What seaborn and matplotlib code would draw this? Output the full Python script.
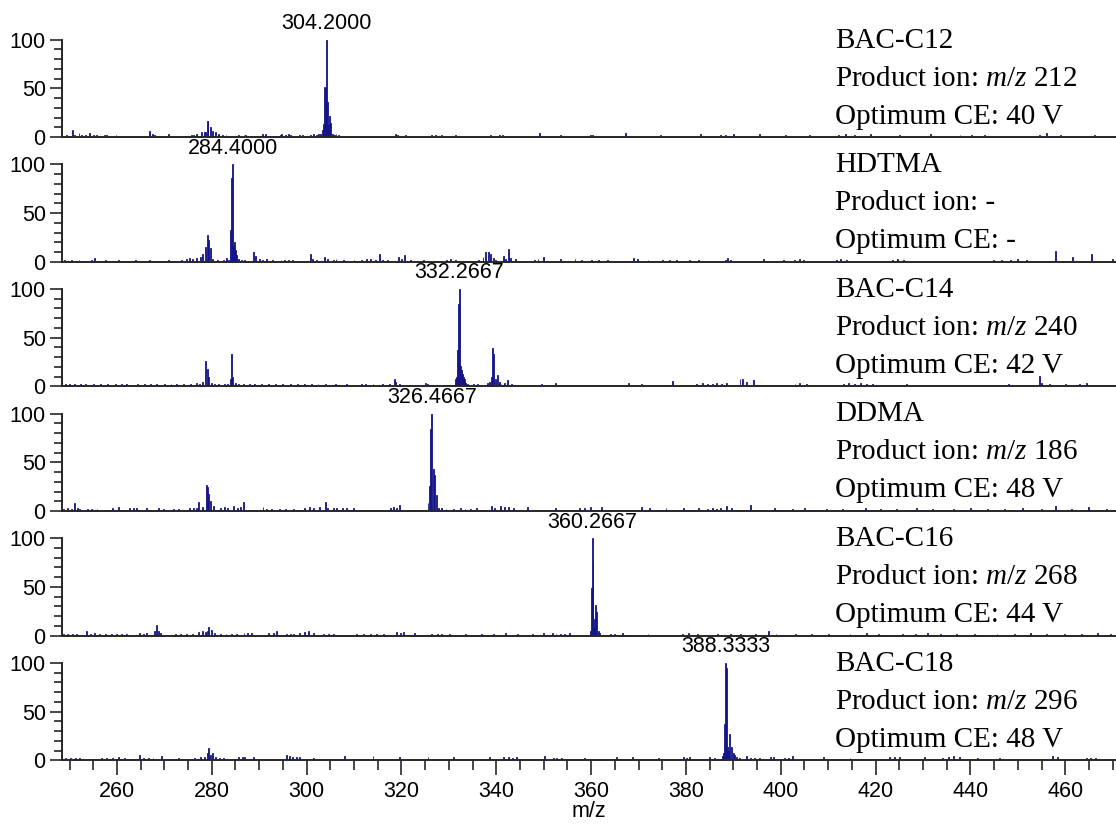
import matplotlib
matplotlib.use("Agg")
import matplotlib.pyplot as plt
import matplotlib.transforms as mtransforms
from matplotlib.ticker import MultipleLocator
import pandas as pd
import seaborn as sns

# Compound annotations for each stacked spectrum
compounds = ["BAC-C12", "HDTMA", "BAC-C14", "DDMA", "BAC-C16", "BAC-C18"]
product_ions = ["212", "-", "240", "186", "268", "296"]
collision_energies = ["40 V", "-", "42 V", "48 V", "44 V", "48 V"]

# Centroided spectra: (m/z, relative intensity %)
spec_bac_c12 = [
    (249.3, 2), (249.8, 1), (250.5, 7), (251.0, 2), (252.1, 4), (252.6, 2), (253.3, 2),
    (254.2, 4), (255.0, 2), (255.6, 2), (256.4, 1), (257.3, 2), (257.8, 2), (259.7, 2),
    (260.6, 1), (266.9, 6), (267.3, 3), (268.0, 2), (270.8, 3), (271.2, 1), (273.7, 1),
    (274.4, 1), (275.8, 2), (276.2, 2), (276.8, 3), (277.9, 5), (278.3, 5), (278.6, 5),
    (279.0, 17), (279.2, 17), (279.8, 10), (280.2, 6), (280.7, 5), (281.4, 3), (282.1, 2),
    (283.0, 2), (284.0, 1), (285.5, 2), (286.7, 2), (287.2, 2), (290.6, 3), (291.3, 3),
    (294.4, 2), (294.8, 3), (295.6, 2), (296.2, 3), (296.6, 2), (298.6, 2), (299.2, 2),
    (300.8, 2), (301.4, 3), (302.0, 2), (302.6, 3), (303.0, 3), (303.4, 7), (303.6, 14),
    (303.8, 52), (304.0, 50), (304.2, 100), (304.4, 36), (304.6, 12), (304.8, 22),
    (305.0, 15), (305.4, 3), (305.8, 2), (306.2, 3), (306.8, 2), (318.7, 3), (319.2, 2),
    (320.7, 2), (326.3, 2), (327.2, 2), (328.3, 2), (331.3, 2), (338.7, 2), (340.6, 2),
    (341.4, 2), (349.2, 4), (353.5, 2), (359.8, 2), (360.2, 2), (367.2, 4), (374.5, 2),
    (383.0, 3), (387.1, 2), (388.4, 2), (390.0, 3), (395.6, 3), (401.0, 2), (406.0, 2),
    (412.2, 2), (413.6, 3), (415.5, 2), (418.9, 3), (425.0, 2), (431.5, 3), (437.8, 2),
    (440.2, 2), (443.0, 2), (454.6, 2), (456.0, 4), (459.0, 2), (466.2, 2),
]

spec_hdtma = [
    (249.0, 2), (249.6, 1), (250.4, 2), (251.2, 1), (252.0, 2), (253.0, 1), (254.6, 2),
    (255.2, 4), (256.0, 1), (257.5, 2), (258.2, 1), (259.0, 1), (260.4, 2), (261.3, 1),
    (262.5, 1), (264.0, 2), (265.3, 1), (266.8, 2), (268.0, 1), (269.5, 1), (270.7, 2),
    (272.0, 1), (273.5, 2), (274.6, 3), (275.4, 4), (276.0, 3), (276.8, 4), (277.6, 5),
    (278.0, 8), (278.6, 15), (279.0, 27), (279.3, 22), (279.8, 14), (280.2, 3), (281.2, 2),
    (282.4, 2), (283.2, 4), (283.6, 2), (284.0, 33), (284.2, 86), (284.4, 100), (284.6, 16),
    (284.8, 20), (285.0, 12), (285.2, 7), (285.6, 3), (286.2, 2), (287.0, 2), (288.7, 10),
    (289.2, 6), (290.0, 3), (290.5, 2), (291.6, 3), (292.8, 2), (294.6, 2), (295.3, 2),
    (296.2, 2), (297.0, 2), (300.7, 8), (301.2, 3), (302.0, 2), (303.7, 5), (304.3, 3),
    (305.6, 2), (306.2, 3), (307.8, 2), (310.0, 2), (311.6, 2), (312.5, 3), (313.4, 3),
    (314.5, 2), (315.3, 8), (316.0, 2), (317.0, 2), (319.4, 5), (320.0, 3), (320.5, 7),
    (322.0, 2), (324.6, 2), (329.5, 2), (330.4, 3), (331.3, 2), (336.2, 2), (337.2, 5),
    (337.8, 10), (338.3, 10), (338.7, 8), (339.3, 4), (339.8, 2), (341.6, 6), (342.0, 3),
    (342.5, 13), (343.0, 4), (344.0, 3), (348.0, 2), (348.8, 3), (350.0, 5), (353.6, 3),
    (356.5, 3), (358.0, 2), (360.0, 2), (361.6, 2), (363.4, 2), (368.9, 4), (369.8, 3),
    (372.0, 2), (375.0, 2), (376.6, 2), (378.0, 2), (380.7, 2), (382.5, 2), (388.3, 2),
    (388.8, 4), (389.4, 2), (396.3, 3), (400.5, 2), (402.8, 2), (404.0, 3), (404.7, 2),
    (411.7, 2), (412.6, 3), (413.8, 2), (423.6, 2), (424.5, 3), (425.8, 2), (444.7, 2),
    (446.5, 2), (448.3, 2), (450.0, 3), (451.8, 2), (458.0, 11), (461.6, 5), (465.5, 8),
    (470.0, 3),
]

spec_bac_c14 = [
    (249.2, 3), (250.0, 2), (251.0, 2), (252.4, 3), (253.4, 2), (255.0, 2), (256.6, 3),
    (258.0, 2), (259.6, 2), (261.0, 3), (262.0, 2), (264.4, 2), (265.8, 2), (267.0, 3),
    (268.4, 2), (270.0, 2), (271.4, 3), (272.6, 2), (274.0, 2), (275.6, 3), (276.8, 4),
    (277.4, 3), (278.0, 5), (278.6, 26), (279.0, 18), (279.4, 10), (280.0, 4), (280.6, 3),
    (281.4, 2), (282.6, 2), (283.4, 3), (284.0, 8), (284.2, 33), (284.4, 10), (285.0, 4),
    (285.6, 2), (286.6, 2), (288.0, 3), (289.0, 2), (290.4, 2), (292.0, 3), (293.4, 2),
    (295.0, 2), (296.6, 3), (298.0, 2), (299.6, 2), (301.0, 2), (302.4, 2), (304.0, 3),
    (306.0, 2), (308.4, 2), (311.6, 3), (312.4, 3), (314.0, 2), (316.0, 2), (317.4, 2),
    (318.6, 8), (318.8, 5), (319.6, 2), (325.0, 4), (325.4, 2),
    (331.4667, 8), (331.6667, 10), (331.8667, 37), (332.0667, 85), (332.2667, 100),
    (332.4667, 21), (332.6667, 17), (332.8667, 13), (333.0667, 10), (333.2667, 8),
    (333.4667, 5), (333.6667, 4), (334.0667, 2), (335.1, 2), (336.0, 2), (338.1, 4),
    (338.5, 5), (338.9, 10), (339.2, 39), (339.4, 33), (339.8, 8), (340.2, 12), (340.6, 5),
    (341.0, 3), (341.8, 4), (342.4, 7), (343.2, 2), (349.6, 2), (352.4, 4), (367.8, 4),
    (370.6, 3), (377.2, 6), (382.2, 3), (383.4, 4), (384.6, 3), (385.6, 3), (386.4, 4),
    (387.6, 3), (388.6, 4), (391.4, 8), (392.0, 8), (392.8, 5), (394.2, 7), (403.0, 3),
    (404.0, 4), (405.4, 3), (413.2, 3), (414.2, 4), (415.6, 3), (416.8, 4), (418.0, 2),
    (419.4, 3), (426.6, 3), (448.0, 2), (454.6, 11), (455.0, 4), (456.6, 3), (460.0, 2),
    (463.0, 3), (464.4, 4),
]

spec_ddma = [
    (248.8, 2), (249.6, 3), (250.4, 2), (251.0, 8), (251.6, 3), (252.2, 2), (253.8, 2),
    (254.6, 2), (255.8, 2), (259.0, 3), (260.4, 4), (262.6, 3), (263.4, 3), (264.2, 3),
    (266.2, 3), (268.8, 3), (269.8, 2), (272.0, 2), (273.0, 2), (275.4, 3), (276.2, 3),
    (276.8, 3), (277.2, 9), (278.0, 4), (278.8, 27), (279.0, 25), (279.4, 18), (279.8, 10),
    (280.4, 5), (281.8, 3), (282.6, 4), (283.4, 3), (284.6, 5), (285.4, 3), (286.0, 4),
    (286.6, 9), (290.8, 4), (291.6, 2), (292.6, 2), (294.2, 2), (295.6, 2), (297.2, 2),
    (299.6, 3), (300.6, 4), (301.4, 3), (302.8, 4), (304.0, 9), (304.4, 3), (305.6, 3),
    (306.4, 3), (307.6, 3), (308.4, 3), (309.8, 3), (317.6, 3), (318.4, 4), (319.0, 3),
    (319.6, 6), (325.6667, 8), (326.0667, 26), (326.2667, 84), (326.4667, 100),
    (326.8667, 43), (327.0667, 37), (327.4667, 16), (327.8667, 3), (328.4, 3), (329.4, 2),
    (331.0, 2), (332.4, 3), (333.4, 2), (334.6, 2), (335.8, 3), (339.0, 5), (339.6, 3),
    (340.8, 5), (341.8, 4), (342.6, 4), (343.6, 3), (346.6, 4), (352.4, 3), (357.6, 3),
    (358.6, 3), (359.8, 4), (362.2, 4), (370.6, 4), (372.4, 3), (375.8, 3), (379.4, 3),
    (382.6, 3), (384.6, 2), (385.6, 3), (386.4, 2), (387.2, 3), (388.6, 5), (389.6, 3),
    (393.6, 6), (398.6, 3), (402.4, 2), (405.0, 3), (409.6, 2), (413.0, 2), (417.8, 3),
    (421.0, 2), (424.4, 2), (428.6, 3), (432.0, 2), (436.4, 2), (440.0, 3), (443.6, 2),
    (447.2, 2), (451.0, 3), (455.0, 2), (458.0, 5), (461.4, 2), (465.0, 4), (468.6, 2),
]

spec_bac_c16 = [
    (248.8, 2), (249.6, 2), (250.6, 2), (251.4, 2), (253.6, 5), (254.4, 2), (255.2, 3),
    (256.4, 2), (257.6, 2), (258.8, 2), (260.0, 2), (261.0, 2), (262.0, 2), (264.8, 3),
    (265.6, 2), (266.2, 3), (268.0, 5), (268.4, 11), (268.8, 5), (269.2, 3), (272.4, 2),
    (273.4, 2), (274.6, 2), (276.0, 2), (277.2, 4), (278.0, 5), (278.6, 4), (279.0, 5),
    (279.4, 9), (280.0, 6), (280.6, 3), (281.8, 2), (283.0, 2), (284.2, 2), (285.2, 2),
    (286.8, 3), (287.6, 3), (288.4, 3), (292.0, 3), (293.0, 3), (293.6, 5), (295.8, 2),
    (296.6, 2), (297.2, 2), (298.6, 3), (299.6, 4), (300.4, 5), (301.4, 3), (303.6, 2),
    (304.6, 2), (305.6, 2), (310.6, 2), (312.0, 2), (313.4, 2), (314.8, 2), (316.2, 2),
    (319.0, 4), (319.8, 3), (320.4, 4), (322.8, 3), (326.4, 2), (327.6, 2), (328.4, 2),
    (330.2, 2), (333.6, 2), (336.8, 2), (339.4, 2), (342.0, 3), (344.4, 2), (347.6, 2),
    (350.0, 3), (351.8, 3), (352.6, 2), (353.6, 2), (354.4, 2), (355.4, 3),
    (359.8667, 5), (360.0667, 49), (360.2667, 100), (360.4667, 77), (360.6667, 9),
    (360.8667, 17), (361.0667, 31), (361.2667, 24), (361.6, 5), (361.8, 3), (364.0, 2),
    (365.0, 2), (366.6, 3), (372.0, 2), (379.2, 2), (380.6, 3), (382.4, 2), (386.6, 2),
    (389.4, 2), (391.6, 2), (394.6, 2), (397.4, 5), (399.0, 2), (403.2, 2), (406.4, 2),
    (410.0, 2), (414.6, 2), (418.0, 3), (420.6, 2), (425.6, 2), (428.4, 2), (431.0, 3),
    (433.6, 2), (437.0, 2), (440.8, 2), (445.6, 2), (449.2, 2), (452.6, 3), (456.0, 2),
    (459.8, 2), (463.4, 2), (466.8, 3), (469.6, 2),
]

spec_bac_c18 = [
    (249.2, 2), (250.2, 2), (251.2, 2), (252.2, 2), (254.0, 1), (254.6, 1), (256.8, 2),
    (257.8, 2), (259.0, 2), (260.4, 3), (261.6, 2), (264.8, 5), (265.6, 2), (266.6, 2),
    (267.6, 2), (269.4, 4), (273.0, 2), (276.4, 2), (277.6, 3), (278.4, 3), (279.0, 8),
    (279.4, 13), (279.8, 5), (280.2, 7), (280.8, 3), (281.6, 2), (282.4, 2), (285.6, 3),
    (286.4, 3), (287.0, 3), (288.8, 3), (295.8, 5), (296.4, 4), (297.0, 3), (297.8, 3),
    (298.6, 3), (301.4, 2), (308.0, 4), (314.0, 4), (319.6, 3), (325.6, 3), (331.0, 3),
    (338.6, 3), (341.6, 3), (342.6, 3), (343.4, 2), (344.2, 3), (350.2, 4), (352.0, 2),
    (352.8, 2), (353.8, 2), (358.6, 2), (365.4, 3), (368.8, 3), (374.2, 2), (379.4, 3),
    (380.2, 2), (380.8, 3), (385.0, 3), (386.0, 2), (387.7333, 4), (387.9333, 8),
    (388.1333, 37), (388.3333, 100), (388.5333, 95), (388.7333, 14), (388.9333, 10),
    (389.1333, 27), (389.5333, 14), (389.9333, 7), (390.2, 5), (390.6, 3), (391.2, 2),
    (392.8, 4), (393.6, 2), (394.4, 2), (395.6, 2), (397.8, 3), (398.4, 3), (400.8, 2),
    (401.6, 2), (402.4, 4), (409.0, 3), (414.6, 2), (423.0, 3), (424.0, 3), (425.0, 3),
    (430.4, 3), (434.2, 2), (435.4, 3), (436.4, 4), (437.6, 3), (441.4, 2), (446.2, 2),
    (457.4, 4), (458.4, 3), (464.4, 2), (465.4, 2), (466.4, 2),
]

spectra = [spec_bac_c12, spec_hdtma, spec_bac_c14, spec_ddma, spec_bac_c16, spec_bac_c18]

x_ticks = [260, 280, 300, 320, 340, 360, 380, 400, 420, 440, 460]
y_ticks = [0, 50, 100]

sns.set_style("ticks")
plt.rcParams["font.family"] = ["Liberation Sans", "DejaVu Sans"]
plt.rcParams["text.color"] = "black"
plt.rcParams["axes.labelcolor"] = "black"
plt.rcParams["xtick.labelcolor"] = "black"
plt.rcParams["ytick.labelcolor"] = "black"
plt.rcParams["mathtext.fontset"] = "custom"
plt.rcParams["mathtext.rm"] = "Liberation Serif"
plt.rcParams["mathtext.it"] = "Liberation Serif:italic"

BAR = "#141488"
AXC = "#262626"
SANS_SIZE = 15.5
W, H = 1116, 825
fig = plt.figure(figsize=(W / 100, H / 100), dpi=100)

left_px = 61.7
panel_h = 97.5
first_base = 137.2
step = 124.62
mz_lo, mz_hi = 248.35, 470.7

for i, (spec, name, ion, ce) in enumerate(zip(spectra, compounds, product_ions, collision_energies)):
    base_px = first_base + step * i
    ax = fig.add_axes([left_px / W, 1 - base_px / H, 1 - left_px / W, panel_h / H])
    df = pd.DataFrame(spec, columns=["mz", "intensity"])
    sns.histplot(data=df, x="mz", weights="intensity", binwidth=0.2,
                 binrange=(248.3, 470.7), color=BAR, alpha=1.0,
                 edgecolor=BAR, linewidth=0.6, ax=ax)
    ax.set_xlim(mz_lo, mz_hi)
    ax.set_ylim(0, 100)
    ax.set_xlabel("")
    ax.set_ylabel("")
    ax.set_facecolor("none")
    sns.despine(ax=ax, top=True, right=True)
    for sp in ("left", "bottom"):
        ax.spines[sp].set_color(AXC)
        ax.spines[sp].set_linewidth(1.4)

    ax.set_yticks(y_ticks)
    ax.yaxis.set_minor_locator(MultipleLocator(10))
    ax.tick_params(axis="y", which="major", length=9, width=1.2, color=AXC,
                   labelsize=SANS_SIZE, pad=2.5, direction="out", labelcolor="black")
    ax.tick_params(axis="y", which="minor", length=6, width=1.2, color=AXC, direction="out")

    if i == len(spectra) - 1:
        ax.set_xticks(x_ticks)
        ax.xaxis.set_minor_locator(MultipleLocator(5))
        ax.tick_params(axis="x", which="major", length=11, width=1.2, color=AXC,
                       labelsize=SANS_SIZE, pad=4, direction="out", labelcolor="black")
        ax.tick_params(axis="x", which="minor", length=7, width=1.2, color=AXC,
                       direction="out")
        ax.set_xlabel("m/z", fontsize=SANS_SIZE, labelpad=-1, color="black")
    else:
        ax.tick_params(axis="x", which="both", bottom=False, labelbottom=False)

    # base peak label
    top = df.loc[df["intensity"].idxmax()]
    ax.annotate(f"{top['mz']:.4f}", xy=(top["mz"], top["intensity"]), xytext=(0, 4),
                textcoords="offset points", ha="center", va="bottom", fontsize=SANS_SIZE,
                color="black", annotation_clip=False)

    # compound information block
    trans = mtransforms.blended_transform_factory(fig.transFigure, ax.transAxes)
    ion_text = "Product ion: -" if ion == "-" else f"Product ion: $m/z$ {ion}"
    lines = [name, ion_text, f"Optimum CE: {ce}"]
    for line, yy in zip(lines, [0.92, 0.53, 0.14]):
        ax.text(835 / W, yy, line, transform=trans, ha="left", va="baseline",
                fontsize=21, family=["Liberation Serif", "DejaVu Serif"],
                color="black", clip_on=False, zorder=5)

fig.savefig("out.png", dpi=100)
